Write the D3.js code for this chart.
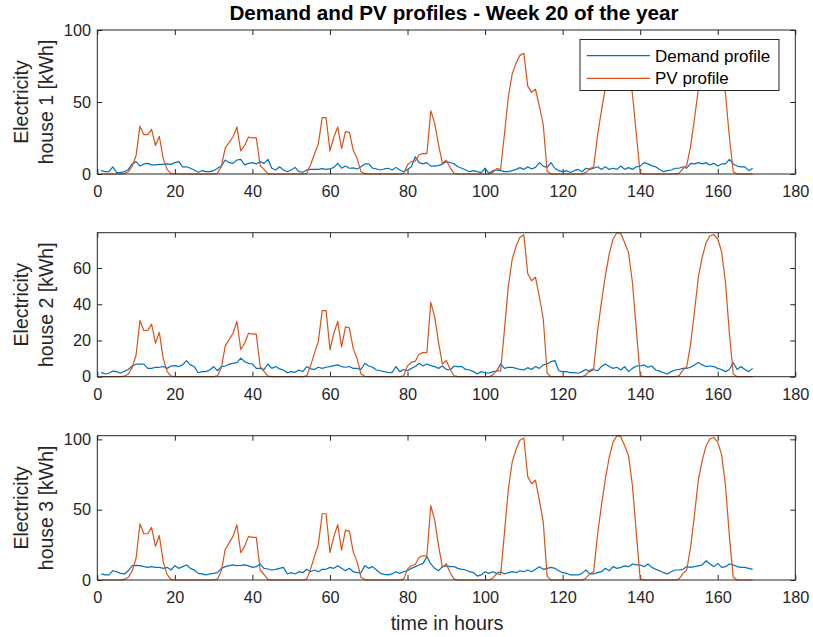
<!DOCTYPE html>
<html>
<head>
<meta charset="utf-8">
<script src="https://cdn.jsdelivr.net/npm/d3@7"></script>
<style>
  body { margin: 0; background: #ffffff; }
  text { font-family: "Liberation Sans", Arial, Helvetica, sans-serif; }
</style>
</head>
<body>
<svg id="chart" width="813" height="637"></svg>
<script>
// ---- Data: hourly values for week 20 (hours 1..169) ----
const hours = d3.range(1, 170);

const houseNames = ["house 1", "house 2", "house 3"];
const seriesNames = ["Demand profile", "PV profile"];
const xTicks = [0, 20, 40, 60, 80, 100, 120, 140, 160, 180];
const yTicks1 = [0, 50, 100];
const yTicks2 = [0, 20, 40, 60];
const yTicks3 = [0, 50, 100];

const demand1 = [
  2.3, 1.6, 1.6, 5, 1, 1, 1.6, 3.2, 7, 8.6,
  5.5, 7, 7.4, 6.3, 6.3, 6.7, 6.7, 7, 6.7, 7.9,
  8.6, 5, 5, 4, 2.8, 1.2, 2.3, 1.6, 1.6, 2.3,
  4, 5.5, 9.7, 7.9, 7.4, 9.7, 10.2, 6.3, 7.4, 7.9,
  7, 8.6, 7.4, 10.2, 4, 2.8, 5, 2.8, 1.6, 2.8,
  4.6, 1.6, 1.2, 2.8, 3.2, 3.2, 3.2, 3.7, 3.2, 3.5,
  4.6, 7.4, 4, 5.5, 4, 4.2, 3.5, 5, 7, 7,
  4, 3.5, 2.8, 3.5, 4, 2.8, 4.6, 2.8, 1.6, 3.2,
  5, 12, 7.9, 7, 7.9, 5.5, 5.5, 5.8, 7, 8.6,
  8, 7, 5, 4, 2.8, 1.6, 2.3, 1.6, 1, 4,
  0.5, 2.3, 2.8, 2.3, 1.6, 1.6, 2.3, 3.2, 4.4, 3.2,
  5, 3.5, 4.6, 7.9, 5.5, 4.6, 7.9, 4, 2.3, 1.6,
  2.3, 1, 2.3, 3.2, 1.6, 4, 3.2, 4, 5, 3.2,
  5, 3.2, 4, 3.2, 5.5, 3.2, 4.4, 3.2, 5, 5.5,
  7.9, 7, 5.8, 5, 3.2, 1.6, 2.3, 2.8, 4, 4,
  5, 4, 7.4, 7, 7.9, 7, 7.9, 6.3, 7.4, 5.5,
  7, 7, 10.2, 7, 5.5, 5, 5, 2.3, 4
];

const pv1 = [
  0, 0, 0, 0, 0, 0,
  0.3, 1.6, 5.4, 12.8, 33.2, 27.3, 27.3, 31, 19.8, 26.2, 10.7, 3.2, 0.3,
  0, 0, 0, 0, 0, 0, 0, 0, 0, 0, 0,
  0.5, 5.4, 18.2, 21.9, 25.7, 32.6, 16.1, 19.8, 25.7, 25.1, 25.1, 5.9, 3.2, 0.3,
  0, 0, 0, 0, 0, 0, 0, 0, 0,
  0.5, 6.4, 13.9, 20.9, 39.1, 39.1, 16.1, 25.7, 32.6, 17.7, 29.4, 28.9, 16.6, 10.7, 1.6, 0.2,
  0, 0, 0, 0, 0, 0, 0, 0, 0,
  0.5, 6.4, 8.6, 9.1, 13.4, 14.2, 14.2, 43.9, 35.3, 20.3, 7.5, 9.6, 4.3, 0.5,
  0, 0, 0, 0, 0, 0, 0, 0, 0,
  1.1, 3.7, 3.2, 27.8, 53.5, 69.6, 77, 82.4, 83.8, 61, 56.7, 58.9, 47.1, 34.2, 2.1, 0,
  0, 0, 0, 0, 0, 0, 0, 0,
  1.1, 3.7, 4.8, 26.8, 43.9, 59.4, 72.2, 81.3, 85.1, 84.5, 79.2, 73.3, 55.6, 27.8, 0.5,
  0, 0, 0, 0, 0, 0, 0, 0, 0,
  0.5, 3.7, 5.9, 19.3, 38.5, 58.9, 70.6, 79.2, 83.2, 84, 81.3, 73.8, 55.6, 25.7, 1.6,
  0, 0, 0, 0, 0
];

const demand2 = [
  2.4, 1.5, 1.9, 3.1, 2.8, 1.9, 3.1, 4, 5.9, 6.9,
  7, 6.9, 4.6, 4.6, 5.2, 5.2, 5.6, 4.6, 5.9, 6.1,
  5.6, 6.5, 8.9, 6.5, 5.6, 2.2, 2.8, 2.8, 3.7, 5.6,
  3.3, 5.6, 5.9, 6.9, 7.4, 7.8, 10.2, 8.3, 7.4, 7,
  4.6, 4.6, 4, 7, 4.6, 5.6, 4.3, 3.7, 2.2, 2.8,
  2.4, 3.7, 2.8, 5.6, 4.3, 4, 5.2, 4.6, 5.2, 5.6,
  6.1, 6.5, 5.6, 5.2, 5.6, 4.6, 4.6, 4, 7.4, 5.9,
  5.2, 3.7, 3.3, 2.8, 2.4, 2.2, 5.6, 2.8, 4, 3.3,
  4.6, 5.6, 7.4, 5.9, 7, 6.1, 5.6, 4.6, 5.9, 4,
  3.7, 5.9, 5.6, 5.6, 4, 3.7, 2.8, 1.5, 2.8, 2.2,
  1.9, 2.8, 3.1, 7, 4.6, 5.2, 5.2, 4.6, 4, 3.7,
  5, 4, 5.6, 4.6, 6.5, 7, 8.3, 8.9, 3.3, 2.8,
  2.8, 2.2, 2.2, 1.9, 2.8, 4, 2.8, 4, 3.3, 5.6,
  7, 5.6, 4.6, 5.2, 3.7, 5.6, 2.8, 4.6, 5.9, 5.9,
  6.5, 5.2, 5.9, 3.7, 3.1, 2.2, 1.5, 2.8, 3.7, 4,
  4.6, 4.6, 5.2, 6.5, 7.8, 6.5, 5.6, 5.9, 5.6, 4.6,
  4, 2.8, 4, 7.8, 4, 5.6, 4, 2.8, 4.6
];

const pv2 = [
  0, 0, 0, 0, 0, 0,
  0.3, 1.5, 5, 12, 31, 25.5, 25.5, 29, 18.5, 24.5, 10, 3, 0.3,
  0, 0, 0, 0, 0, 0, 0, 0, 0, 0, 0,
  0.5, 5, 17, 20.5, 24, 30.5, 15, 18.5, 24, 23.5, 23.5, 5.5, 3, 0.3,
  0, 0, 0, 0, 0, 0, 0, 0, 0,
  0.5, 6, 13, 19.5, 36.5, 36.5, 15, 24, 30.5, 16.5, 27.5, 27, 15.5, 10, 1.5, 0.2,
  0, 0, 0, 0, 0, 0, 0, 0, 0,
  0.5, 6, 8, 8.5, 12.5, 13.3, 13.3, 41, 33, 19, 7, 9, 4, 0.5,
  0, 0, 0, 0, 0, 0, 0, 0, 0,
  1, 3.5, 3, 26, 50, 65, 72, 77, 78.3, 57, 53, 55, 44, 32, 2, 0,
  0, 0, 0, 0, 0, 0, 0, 0,
  1, 3.5, 4.5, 25, 41, 55.5, 67.5, 76, 79.5, 79, 74, 68.5, 52, 26, 0.5,
  0, 0, 0, 0, 0, 0, 0, 0, 0,
  0.5, 3.5, 5.5, 18, 36, 55, 66, 74, 77.8, 78.5, 76, 69, 52, 24, 1.5,
  0, 0, 0, 0, 0
];

const demand3 = [
  4.3, 3.6, 3.6, 6.6, 5.9, 4.7, 4.3, 6.6, 10.2, 10.4,
  10.2, 9.5, 9, 9.5, 9, 9, 8.3, 9, 7.1, 10.2,
  8.3, 9.5, 10.7, 8.3, 7.1, 4.7, 4.3, 3.6, 4.3, 4.7,
  5.2, 8.3, 9.5, 10.2, 10.7, 10.2, 10.4, 10.7, 10, 9,
  9.5, 11.4, 8.3, 7.8, 7.1, 7.6, 8.3, 9, 4.3, 5.2,
  4.3, 5.9, 5.2, 7.6, 5.9, 7.1, 5.9, 7.6, 7.6, 9,
  8.3, 10.2, 8.3, 6.6, 8.3, 5.9, 5.2, 5.2, 10.2, 8.3,
  9.5, 7.1, 4.7, 4, 3.6, 4.3, 5.9, 4.7, 5.9, 6.6,
  8.3, 9.5, 10.7, 11.8, 16.6, 11.4, 8.3, 6.6, 9.5, 10,
  9.5, 9.5, 8.3, 7.6, 7.1, 5.9, 5.2, 2.8, 3.6, 5.9,
  4.7, 5.9, 4.7, 5.9, 4.3, 5.2, 5.9, 5.2, 6.6, 5.9,
  7.1, 5.9, 7.6, 9.5, 7.6, 8.3, 9, 8.3, 6.6, 5.2,
  4.7, 3.6, 3.6, 3.6, 4.7, 7.1, 4.3, 4.3, 5.2, 5.9,
  8.3, 6.6, 9.5, 8.3, 9, 10, 9.5, 11.4, 10.7, 10.7,
  9.5, 11.4, 9, 7.6, 6.6, 5.2, 4.3, 5.9, 7.1, 7.1,
  7.6, 9.5, 9, 9.5, 10, 10.7, 13.7, 11.4, 9.5, 11.8,
  9, 9.5, 11.4, 10.7, 9.5, 9, 9, 8.3, 7.6
];

const pv3 = [
  0, 0, 0, 0, 0, 0,
  0.4, 1.9, 6.5, 15.5, 40, 32.9, 32.9, 37.4, 23.9, 31.6, 12.9, 3.9, 0.4,
  0, 0, 0, 0, 0, 0, 0, 0, 0, 0, 0,
  0.6, 6.5, 21.9, 26.4, 31, 39.3, 19.4, 23.9, 31, 30.3, 30.3, 7.1, 3.9, 0.4,
  0, 0, 0, 0, 0, 0, 0, 0, 0,
  0.6, 7.7, 16.8, 25.2, 47.1, 47.1, 19.4, 31, 39.3, 21.3, 35.5, 34.8, 20, 12.9, 1.9, 0.3,
  0, 0, 0, 0, 0, 0, 0, 0, 0,
  0.6, 7.7, 10.3, 11, 16.1, 17.2, 17.2, 52.9, 42.6, 24.5, 9, 11.6, 5.2, 0.6,
  0, 0, 0, 0, 0, 0, 0, 0, 0,
  1.3, 4.5, 3.9, 33.5, 64.5, 83.9, 92.9, 99.3, 101, 73.5, 68.4, 71, 56.8, 41.3, 2.6, 0,
  0, 0, 0, 0, 0, 0, 0, 0,
  1.3, 4.5, 5.8, 32.3, 52.9, 71.6, 87.1, 98, 102.6, 101.9, 95.5, 88.4, 67.1, 33.5, 0.6,
  0, 0, 0, 0, 0, 0, 0, 0, 0,
  0.6, 4.5, 7.1, 23.2, 46.4, 71, 85.1, 95.5, 100.4, 101.3, 98, 89, 67.1, 31, 1.9,
  0, 0, 0, 0, 0
];

// ---- Layout ----
const svg = d3.select("#chart");
const axisColor = "#262626";
const colors = ["#0072BD", "#D95319"];
const plotLeft = 97.3, plotRight = 795.3;

const panels = [
  { demand: demand1, pv: pv1, top: 30,    bottom: 174,   yMax: 100,                              ticks: yTicks1, name: houseNames[0], legend: true },
  { demand: demand2, pv: pv2, top: 232.7, bottom: 376.7, yMax: d3.max(demand2.concat(pv2)),      ticks: yTicks2, name: houseNames[1] },
  { demand: demand3, pv: pv3, top: 435.7, bottom: 580,   yMax: d3.max(demand3.concat(pv3)),      ticks: yTicks3, name: houseNames[2] }
];

const x = d3.scaleLinear().domain([0, 180]).range([plotLeft, plotRight]);

function styleAxis(g) {
  g.select(".domain").remove();
  g.selectAll(".tick line").attr("stroke", axisColor).attr("stroke-width", 1);
  g.selectAll(".tick text").attr("fill", axisColor).style("font-size", "16.3px")
    .style("font-family", '"Liberation Sans", Arial, sans-serif');
}

panels.forEach(p => {
  const y = d3.scaleLinear().domain([0, p.yMax]).range([p.bottom, p.top]);
  const g = svg.append("g");

  // white plot background
  g.append("rect")
    .attr("x", plotLeft).attr("y", p.top)
    .attr("width", plotRight - plotLeft).attr("height", p.bottom - p.top)
    .attr("fill", "#ffffff");

  // axes with inward ticks, mirrored on top and right
  g.append("g").attr("transform", `translate(0,${p.bottom})`)
    .call(d3.axisBottom(x).tickValues(xTicks).tickSizeInner(-5).tickSizeOuter(0).tickPadding(11.4))
    .call(styleAxis);
  g.append("g").attr("transform", `translate(0,${p.top})`)
    .call(d3.axisTop(x).tickValues(xTicks).tickSizeInner(-5).tickSizeOuter(0).tickFormat(""))
    .call(styleAxis);
  g.append("g").attr("transform", `translate(${plotLeft},0)`)
    .call(d3.axisLeft(y).tickValues(p.ticks).tickSizeInner(-5).tickSizeOuter(0).tickPadding(6.3))
    .call(styleAxis);
  g.append("g").attr("transform", `translate(${plotRight},0)`)
    .call(d3.axisRight(y).tickValues(p.ticks).tickSizeInner(-5).tickSizeOuter(0).tickFormat(""))
    .call(styleAxis);

  // series lines
  const line = d3.line().x((d, i) => x(hours[i])).y(d => y(d));
  [p.demand, p.pv].forEach((s, k) => {
    g.append("path").datum(s)
      .attr("d", line)
      .attr("fill", "none")
      .attr("stroke", colors[k])
      .attr("stroke-width", 1.2)
      .attr("stroke-linejoin", "round");
  });

  // axes box
  g.append("rect")
    .attr("x", plotLeft).attr("y", p.top)
    .attr("width", plotRight - plotLeft).attr("height", p.bottom - p.top)
    .attr("fill", "none").attr("stroke", axisColor).attr("stroke-width", 1);

  // y label (two lines)
  const cy = (p.top + p.bottom) / 2;
  const yl = g.append("text")
    .attr("transform", `translate(0,${cy}) rotate(-90)`)
    .attr("text-anchor", "middle")
    .attr("fill", axisColor)
    .style("font-size", "19.5px");
  yl.append("tspan").attr("x", 0).attr("y", 28.3).text("Electricity");
  yl.append("tspan").attr("x", 0).attr("y", 52.5).text(`${p.name} [kWh]`);

  // legend
  if (p.legend) {
    const lg = g.append("g");
    lg.append("rect")
      .attr("x", 580).attr("y", 39.5).attr("width", 199).attr("height", 51)
      .attr("fill", "#ffffff").attr("stroke", axisColor).attr("stroke-width", 1);
    const rowsY = [55.7, 78.3];
    seriesNames.forEach((nm, k) => {
      lg.append("line")
        .attr("x1", 586.7).attr("x2", 650).attr("y1", rowsY[k]).attr("y2", rowsY[k])
        .attr("stroke", colors[k]).attr("stroke-width", 1.2);
      lg.append("text")
        .attr("x", 655).attr("y", rowsY[k]).attr("dy", "0.35em")
        .attr("fill", "#000000")
        .style("font-size", "17px")
        .text(nm);
    });
  }
});

// title and x label
svg.append("text")
  .attr("x", 454).attr("y", 20)
  .attr("text-anchor", "middle")
  .attr("fill", "#000000")
  .style("font-size", "20.7px").style("font-weight", "bold")
  .text("Demand and PV profiles - Week 20 of the year");

svg.append("text")
  .attr("x", 447).attr("y", 630)
  .attr("text-anchor", "middle")
  .attr("fill", axisColor)
  .style("font-size", "19.7px")
  .text("time in hours");
</script>
</body>
</html>
